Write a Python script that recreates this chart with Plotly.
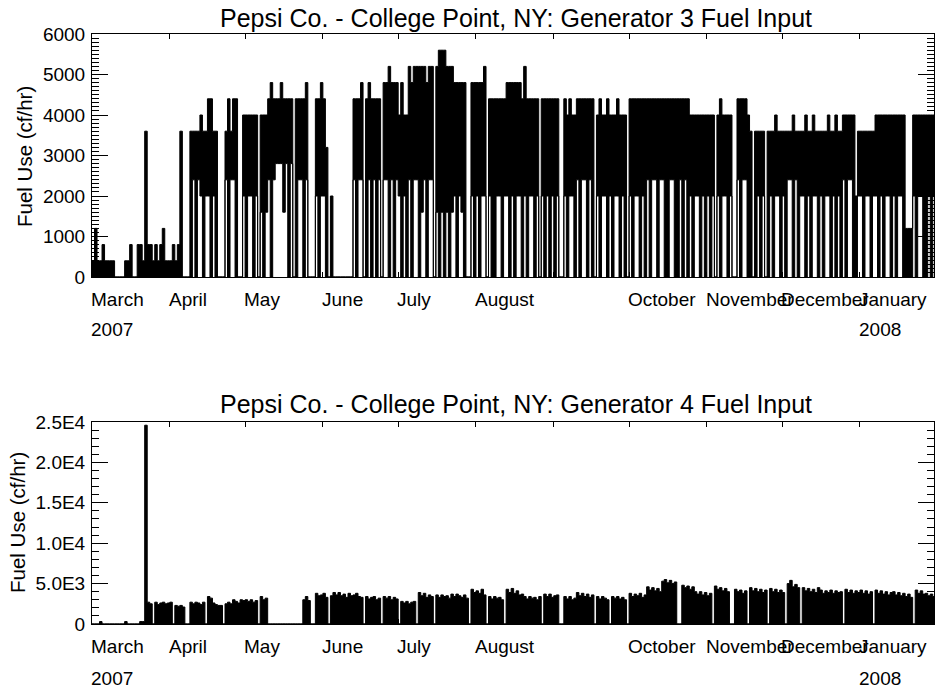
import datetime as dt
import plotly.graph_objects as go

# ---------------- data (daily values) ----------------
# Generator 3: daily peak (hi) and daily trough (lo), cf/hr
g3_hi_mar = [400,1200,400,400,800,400,400,400,400,0,0,0,0,400,400,800,0,0,800,800,400,3600,800,800,400,800,400,800,1200,400,400]
g3_lo_mar = [0,0,0,0,0,0,0,0,0,0,0,0,0,0,0,0,0,0,0,0,0,0,0,0,0,0,0,0,0,0,0]
g3_hi_apr = [400,800,400,800,3600,0,0,0,3600,3600,3600,3600,4000,3600,3600,4400,4400,3600,3600,0,0,0,3600,4400,3600,4400,4400,0,0,4000]
g3_lo_apr = [0,0,0,0,0,0,0,0,0,2400,0,2400,2000,0,2000,2000,0,2000,0,0,0,0,2400,0,2400,2400,0,0,0,2000]
g3_hi_may = [4000,4000,4000,4000,4000,0,4000,4000,4000,4400,4800,4400,4400,4400,4800,4400,4400,4400,4400,0,4400,4400,4400,4400,4800,0,0,0,4400,4400,4800]
g3_lo_may = [0,2000,2000,0,2000,0,1600,0,1600,2400,0,2400,2800,2800,2800,1600,2800,0,2800,0,0,2400,2400,0,2400,0,0,0,2000,0,2000]
g3_hi_jun = [4400,3200,0,2000,0,0,0,0,0,0,0,0,4400,4400,4400,4800,0,4400,4800,4400,4400,4400,4400,0,4800,4800,5200,4800,4800,4800]
g3_lo_jun = [2000,0,0,0,0,0,0,0,0,0,0,0,2400,0,2400,2400,0,0,2400,0,2400,0,2400,0,2400,2400,0,2400,0,2400]
g3_hi_jul = [4000,4800,4000,4000,5200,4800,5200,5200,5200,5200,5200,4800,5200,5200,0,5200,5600,5600,5600,5200,5200,5200,4800,4800,4800,4800,4800,0,0,4800,4800]
g3_lo_jul = [2000,0,2000,0,2400,0,2400,2400,0,1600,2400,0,2400,2400,0,1600,0,1600,0,1600,0,1600,2000,0,2000,1600,0,0,0,2000,0]
g3_hi_aug = [4800,4800,4800,5200,0,4400,4400,4400,4400,4400,4400,4400,4800,4800,4800,4800,4800,4800,4400,5200,4400,4400,4400,4400,4400,0,4400,4400,4400,4400,4400]
g3_lo_aug = [2000,0,2000,2000,0,2000,0,0,2000,2000,0,2000,2000,0,2000,0,2000,2000,0,2000,0,2000,2000,0,2000,0,2000,0,2000,0,2000]
g3_hi_sep = [4400,4400,0,0,4400,4000,4400,4000,4000,4400,4400,4400,4400,4400,4400,4400,0,4000,4400,4000,4000,4400,4000,4000,4000,4400,4000,4000,4000,0]
g3_lo_sep = [0,2000,0,0,2000,0,2000,2000,0,2400,0,2400,2400,0,2400,0,0,2000,0,2000,2000,0,2000,0,2000,2000,0,2000,0,0]
g3_hi_oct = [4400,4400,4400,4400,4400,4400,4400,4400,4400,4400,4400,4400,4400,4400,4400,4400,4400,4400,4400,4400,4400,4400,4400,4400,4000,4000,4000,4000,4000,4000,4000]
g3_lo_oct = [2000,0,2000,2000,0,2000,0,2400,0,2400,2400,0,2400,2400,0,0,2400,2400,0,0,2400,0,2400,0,2000,0,2000,2000,0,2000,0]
g3_hi_nov = [4000,4000,4000,0,4000,4400,4000,4000,4000,4000,0,0,4400,4400,4400,4400,4000,3600,0,3600,3600,3600,3600,0,3600,3600,3600,4000,3600,3600]
g3_lo_nov = [2000,0,2000,0,2000,0,2000,2000,0,2000,0,0,2400,0,2400,2400,0,0,0,0,2000,0,2000,0,0,2000,0,2000,2000,0]
g3_hi_dec = [3600,3600,3600,3600,4000,3600,3600,3600,3600,4000,3600,3600,4000,3600,3600,3600,3600,3600,4000,3600,3600,4000,3600,3600,4000,4000,4000,4000,4000,2000,3600]
g3_lo_dec = [2000,0,2400,2400,0,2400,0,2000,2000,0,2000,0,2000,2000,0,2000,0,2000,2000,0,2000,0,2000,0,2400,0,2400,2400,0,0,2000]
g3_hi_jan = [3600,3600,3600,3600,3600,3600,4000,4000,4000,4000,4000,4000,4000,4000,4000,4000,4000,4000,1200,1200,1200,4000,4000,4000,4000,4000,4000,4000,4000,4000]
g3_lo_jan = [2000,0,2000,2000,0,2000,2000,0,2000,0,2000,2000,0,2000,0,2000,2000,0,0,0,0,2000,0,2000,2000,0,0,2000,0,2000]

# Generator 4: daily peak (daily trough is 0 throughout), cf/hr
g4_hi_mar = [0,0,0,300,0,0,0,0,0,0,0,0,0,300,0,0,0,0,0,300,300,24600,2700,2500,0,2700,2400,2600,2700,2500,2600]
g4_hi_apr = [2700,0,2300,2200,2300,2100,0,0,2700,2500,2700,2600,2400,2700,0,3400,3200,2600,2400,2300,2300,0,2500,2700,2500,3000,2800,2600,3000,2900]
g4_hi_may = [3000,2800,3000,2700,2900,0,3400,3000,3200,0,0,0,0,0,0,0,0,0,0,0,0,0,0,3000,3400,2900,0,0,3800,3500,3600]
g4_hi_jun = [3800,3300,0,3500,3900,3600,3900,3500,3700,3300,3800,3500,3600,3800,3400,3300,0,3400,3100,3300,3400,3000,3200,0,3400,3200,3400,3000,3300,3100]
g4_hi_jul = [0,2800,2600,2800,2500,2700,2800,0,3900,3500,3800,3300,3600,3400,0,3600,3300,3600,3400,3500,3200,3700,3400,3700,3500,3300,3600,3200,0,4300,3900]
g4_hi_aug = [4100,3800,4300,3600,0,3400,3100,3400,3200,3300,3000,0,4300,3900,4400,3800,4100,3600,3700,3400,3100,3400,3200,3300,3000,3400,0,3700,3400,3700,3300]
g4_hi_sep = [3500,3600,0,0,3400,3100,3400,3000,3200,3900,3500,3800,3400,3700,3300,3600,0,3400,3100,3400,3200,3000,0,3400,3200,3400,3100,3300,3000,0]
g4_hi_oct = [3800,3400,3700,3500,3800,3300,3600,4600,4200,4500,4100,4400,4000,5300,5500,5100,5400,5000,5200,0,0,4800,4500,4700,4300,4600,4000,3700,4000,3600,3900]
g4_hi_nov = [3500,3800,0,4700,4300,4500,4100,4400,4000,0,0,4300,4000,4200,3800,4100,0,4500,4100,4400,4000,4300,3900,4200,0,4400,4000,4300,3900,4200]
g4_hi_dec = [3900,0,5000,5400,4600,4900,4500,0,4500,4100,4400,4000,4300,3900,4500,4200,3800,4100,3900,4200,3800,4100,3900,4000,0,4300,3900,4200,3800,4100,3900]
g4_hi_jan = [4200,3800,4100,3700,4000,0,4200,3800,4100,3700,4000,3600,3900,4000,3600,3900,3500,3800,3400,3700,3300,0,4200,3800,4100,3700,3800,3500,3700,3400]

g3_hi = g3_hi_mar + g3_hi_apr + g3_hi_may + g3_hi_jun + g3_hi_jul + g3_hi_aug + g3_hi_sep + g3_hi_oct + g3_hi_nov + g3_hi_dec + g3_hi_jan
g3_lo = g3_lo_mar + g3_lo_apr + g3_lo_may + g3_lo_jun + g3_lo_jul + g3_lo_aug + g3_lo_sep + g3_lo_oct + g3_lo_nov + g3_lo_dec + g3_lo_jan
g4_hi = g4_hi_mar + g4_hi_apr + g4_hi_may + g4_hi_jun + g4_hi_jul + g4_hi_aug + g4_hi_sep + g4_hi_oct + g4_hi_nov + g4_hi_dec + g4_hi_jan
g4_lo = [0] * len(g4_hi)

start_date = "2007-03-01"
month_starts = ["2007-03-01", "2007-04-01", "2007-05-01", "2007-06-01", "2007-07-01", "2007-08-01",
                "2007-09-01", "2007-10-01", "2007-11-01", "2007-12-01", "2008-01-01"]
month_labels = ["March", "April", "May", "June", "July", "August", "", "October", "November", "December", "January"]
year_dates = ["2007-03-01", "2008-01-01"]
year_labels = ["2007", "2008"]
g3_ticks = [0, 1000, 2000, 3000, 4000, 5000, 6000]
g3_ticktext = ["0", "1000", "2000", "3000", "4000", "5000", "6000"]
g4_ticks = [0, 5000, 10000, 15000, 20000, 25000]
g4_ticktext = ["0", "5.0E3", "1.0E4", "1.5E4", "2.0E4", "2.5E4"]
titles = ["Pepsi Co. - College Point, NY: Generator 3 Fuel Input",
          "Pepsi Co. - College Point, NY: Generator 4 Fuel Input"]
ytitle = "Fuel Use (cf/hr)"

# ---------------- build the traces ----------------
t0 = dt.datetime.fromisoformat(start_date)


def steps(vals):
    xs = [t0 + dt.timedelta(days=i) for i in range(len(vals) + 1)]
    return xs, list(vals) + [vals[-1]]


FONT = "Liberation Sans, Arial, Helvetica, sans-serif"
fig = go.Figure()
for lo, hi, xa, ya in [(g3_lo, g3_hi, "x", "y"), (g4_lo, g4_hi, "x2", "y2")]:
    xl, yl = steps(lo)
    xh, yh = steps(hi)
    fig.add_trace(go.Scatter(x=xl, y=yl, mode="lines", line=dict(color="black", width=1, shape="hv"),
                             xaxis=xa, yaxis=ya, showlegend=False, hoverinfo="skip"))
    fig.add_trace(go.Scatter(x=xh, y=yh, mode="lines", line=dict(color="black", width=1, shape="hv"),
                             fill="tonexty", fillcolor="black",
                             xaxis=xa, yaxis=ya, showlegend=False, hoverinfo="skip"))

W, H = 935, 692
L, R = 92, 934


def py(ypage):
    return (H - ypage) / H


top_dom = [py(277), py(34)]
bot_dom = [py(624), py(422)]
xr = ["2007-03-01", "2008-01-30 12:00"]

xcommon = dict(type="date", range=xr, showline=True, linecolor="black", linewidth=1, mirror="ticks",
               ticks="inside", ticklen=5, tickcolor="black", tickvals=month_starts,
               showticklabels=False, showgrid=False, zeroline=False)
ycommon = dict(showline=True, linecolor="black", linewidth=1, mirror="ticks", ticks="inside",
               ticklen=16, tickcolor="black", showgrid=False, zeroline=False, ticklabelstandoff=2,
               tickfont=dict(family=FONT, size=19, color="black"))

fig.update_layout(
    width=W, height=H, autosize=False,
    margin=dict(l=L, r=W - R, t=0, b=0, autoexpand=False),
    paper_bgcolor="white", plot_bgcolor="white",
    font=dict(family=FONT, color="black"),
    xaxis=dict(domain=[0, 1], anchor="y", **xcommon),
    xaxis2=dict(domain=[0, 1], anchor="y2", **xcommon),
    yaxis=dict(domain=top_dom, anchor="x", range=[0, 6000], tickvals=g3_ticks, ticktext=g3_ticktext,
               minor=dict(dtick=100, ticks="inside", ticklen=7, tickcolor="black"), **ycommon),
    yaxis2=dict(domain=bot_dom, anchor="x2", range=[0, 25000], tickvals=g4_ticks, ticktext=g4_ticktext,
                minor=dict(dtick=1000, ticks="inside", ticklen=7, tickcolor="black"), **ycommon),
)

ann = []
# panel titles
for txt, yc in zip(titles, [18, 404]):
    ann.append(dict(text=txt, xref="paper", yref="paper", x=0.5, y=py(yc), xanchor="center", xshift=3,
                    yanchor="middle", showarrow=False, font=dict(family=FONT, size=25, color="black")))
# y titles
for yc, xc in [(157, 24), (523, 17)]:
    ann.append(dict(text=ytitle, xref="paper", yref="paper", x=(xc - L) / (R - L), y=py(yc),
                    xanchor="center", yanchor="middle", textangle=-90, showarrow=False,
                    font=dict(family=FONT, size=20.5, color="black")))
# month / year labels
for xref, ym, yy in [("x", 299, 329), ("x2", 646, 678)]:
    for d, lab in zip(month_starts, month_labels):
        if lab:
            ann.append(dict(text=lab, xref=xref, yref="paper", x=d, y=py(ym), xanchor="left",
                            yanchor="middle", showarrow=False, xshift=-3,
                            font=dict(family=FONT, size=19, color="black")))
    for d, lab in zip(year_dates, year_labels):
        ann.append(dict(text=lab, xref=xref, yref="paper", x=d, y=py(yy), xanchor="left",
                        yanchor="middle", showarrow=False, xshift=-3,
                        font=dict(family=FONT, size=19, color="black")))
fig.update_layout(annotations=ann)

# remove the browser's default 8px body margin so the figure sits at the page origin
fig.write_html("out.html", config={"displayModeBar": False},
               post_script="document.body.style.margin='0';document.body.style.overflow='hidden';")
